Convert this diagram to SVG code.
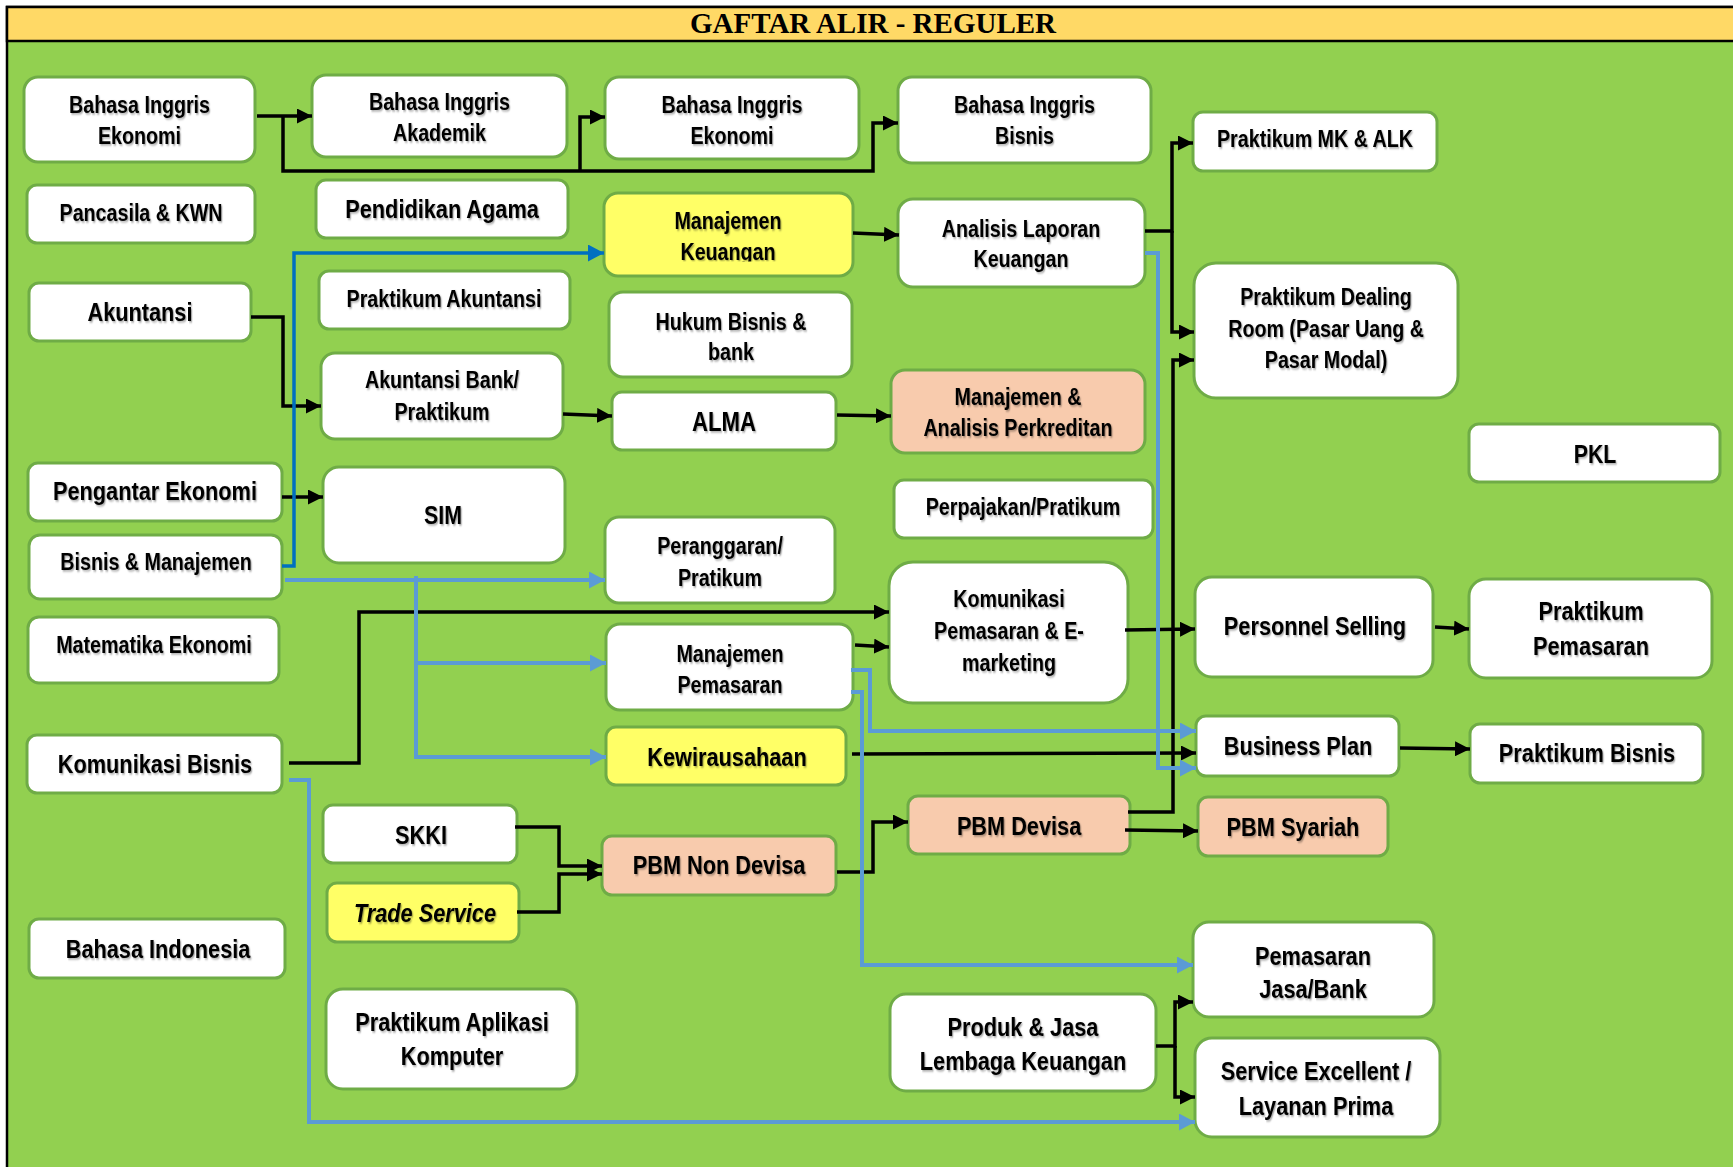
<svg xmlns="http://www.w3.org/2000/svg" width="1733" height="1167" viewBox="0 0 1733 1167">
<style>
.nd{fill:#fff;stroke:#6FAC46;stroke-width:3}
.yl{fill:#FFFF66}
.pc{fill:#F8CBAD}
.t{font-family:"Liberation Sans",Arial,sans-serif;font-weight:bold;fill:#000;text-anchor:middle;transform-box:fill-box;transform-origin:center;transform:scaleX(0.82);filter:url(#ts)}
.s24{font-size:24px}
.s26{font-size:26.5px}
.c{fill:none;stroke:#000;stroke-width:3.5;marker-end:url(#ab)}
.b{fill:none;stroke:#5B9BD5;stroke-width:4;marker-end:url(#al)}
.d{fill:none;stroke:#0070C0;stroke-width:3.5;marker-end:url(#ad)}
</style>
<defs>
<filter id="ts" x="-10%" y="-20%" width="120%" height="150%"><feDropShadow dx="1.5" dy="1.5" stdDeviation="0.8" flood-color="#000" flood-opacity="0.35"/></filter>
<marker id="ab" markerUnits="userSpaceOnUse" markerWidth="16" markerHeight="15" refX="15" refY="7.5" orient="auto"><path d="M0,0 L15,7.5 L0,15 z" fill="#000"/></marker>
<marker id="al" markerUnits="userSpaceOnUse" markerWidth="17" markerHeight="17" refX="16" refY="8.5" orient="auto"><path d="M0,0 L16,8.5 L0,17 z" fill="#5B9BD5"/></marker>
<marker id="ad" markerUnits="userSpaceOnUse" markerWidth="17" markerHeight="17" refX="16" refY="8.5" orient="auto"><path d="M0,0 L16,8.5 L0,17 z" fill="#0070C0"/></marker>
<clipPath id="clipMK"><rect x="600" y="190" width="260" height="71.5"/></clipPath>
</defs>
<rect x="0" y="0" width="1733" height="1167" fill="#fff"/>
<rect x="7" y="7" width="1740" height="1170" fill="#92D050" stroke="#000" stroke-width="2.5"/>
<rect x="7" y="7" width="1740" height="34" fill="#FFD966" stroke="#000" stroke-width="2.5"/>
<text x="873" y="33" font-family="'Liberation Serif','Times New Roman',serif" font-weight="bold" font-size="29" text-anchor="middle">GAFTAR ALIR - REGULER</text>

<g id="nodes">
<g id="n1"><rect class="nd" x="24" y="77" width="231" height="85" rx="14"/><text class="t s24" x="139.5" y="113">Bahasa Inggris<tspan x="139.5" y="144">Ekonomi</tspan></text></g>
<g id="n2"><rect class="nd" x="312" y="75" width="255" height="82" rx="14"/><text class="t s24" x="439.5" y="110">Bahasa Inggris<tspan x="439.5" y="141.5">Akademik</tspan></text></g>
<g id="n3"><rect class="nd" x="605" y="77" width="254" height="82" rx="14"/><text class="t s24" x="732" y="113">Bahasa Inggris<tspan x="732" y="144">Ekonomi</tspan></text></g>
<g id="n4"><rect class="nd" x="898" y="77" width="253" height="86" rx="14"/><text class="t s24" x="1024.5" y="113">Bahasa Inggris<tspan x="1024.5" y="144">Bisnis</tspan></text></g>
<g id="n5"><rect class="nd" x="1193" y="112" width="244" height="59" rx="10"/><text class="t s24" x="1315" y="147">Praktikum MK &amp; ALK</text></g>
<g id="n6"><rect class="nd" x="27" y="185" width="228" height="58" rx="10"/><text class="t s24" x="141" y="221">Pancasila &amp; KWN</text></g>
<g id="n7"><rect class="nd" x="316" y="180" width="252" height="58" rx="10"/><text class="t s26" x="442" y="218">Pendidikan Agama</text></g>
<g id="n8"><rect class="nd yl" x="604" y="193" width="249" height="83" rx="14"/><g clip-path="url(#clipMK)"><text class="t s24" x="728" y="229">Manajemen<tspan x="728" y="260">Keuangan</tspan></text></g></g>
<g id="n9"><rect class="nd" x="898" y="199" width="247" height="88" rx="15"/><text class="t s24" x="1021" y="237">Analisis Laporan<tspan x="1021" y="267">Keuangan</tspan></text></g>
<g id="n10"><rect class="nd" x="29" y="283" width="222" height="58" rx="10"/><text class="t s26" x="140" y="321">Akuntansi</text></g>
<g id="n11"><rect class="nd" x="319" y="271" width="251" height="58" rx="10"/><text class="t s24" x="444" y="307">Praktikum Akuntansi</text></g>
<g id="n12"><rect class="nd" x="609" y="292" width="243" height="85" rx="14"/><text class="t s24" x="731" y="330">Hukum Bisnis &amp;<tspan x="731" y="360">bank</tspan></text></g>
<g id="n13"><rect class="nd" x="321" y="353" width="242" height="86" rx="14"/><text class="t s24" x="442" y="388">Akuntansi Bank/<tspan x="442" y="420.5">Praktikum</tspan></text></g>
<g id="n14"><rect class="nd" x="612" y="392" width="224" height="58" rx="10"/><text class="t" font-size="27" x="724" y="431">ALMA</text></g>
<g id="n15"><rect class="nd pc" x="891" y="370" width="254" height="83" rx="14"/><text class="t s24" x="1018" y="405">Manajemen &amp;<tspan x="1018" y="436">Analisis Perkreditan</tspan></text></g>
<g id="n16"><rect class="nd" x="1194" y="263" width="264" height="135" rx="22"/><text class="t s24" x="1326" y="305">Praktikum Dealing<tspan x="1326" y="337">Room (Pasar Uang &amp;</tspan><tspan x="1326" y="368">Pasar Modal)</tspan></text></g>
<g id="n17"><rect class="nd" x="1469" y="424" width="251" height="58" rx="10"/><text class="t" font-size="26" x="1595" y="463">PKL</text></g>
<g id="n18"><rect class="nd" x="28" y="463" width="254" height="58" rx="10"/><text class="t s26" x="155" y="500">Pengantar Ekonomi</text></g>
<g id="n19"><rect class="nd" x="323" y="467" width="242" height="96" rx="16"/><text class="t" font-size="26" x="443" y="524">SIM</text></g>
<g id="n20"><rect class="nd" x="29" y="535" width="253" height="64" rx="11"/><text class="t s24" x="156" y="570">Bisnis &amp; Manajemen</text></g>
<g id="n21"><rect class="nd" x="894" y="480" width="259" height="58" rx="10"/><text class="t s24" x="1023" y="515">Perpajakan/Pratikum</text></g>
<g id="n22"><rect class="nd" x="605" y="517" width="230" height="86" rx="14"/><text class="t s24" x="720" y="554">Peranggaran/<tspan x="720" y="586">Pratikum</tspan></text></g>
<g id="n23"><rect class="nd" x="889" y="562" width="239" height="141" rx="24"/><text class="t s24" x="1009" y="607">Komunikasi<tspan x="1009" y="639">Pemasaran &amp; E-</tspan><tspan x="1009" y="671">marketing</tspan></text></g>
<g id="n24"><rect class="nd" x="28" y="617" width="251" height="66" rx="11"/><text class="t s24" x="154" y="653">Matematika Ekonomi</text></g>
<g id="n25"><rect class="nd" x="606" y="624" width="247" height="86" rx="14"/><text class="t s24" x="730" y="662">Manajemen<tspan x="730" y="693">Pemasaran</tspan></text></g>
<g id="n26"><rect class="nd" x="1195" y="577" width="238" height="100" rx="17"/><text class="t s26" x="1315" y="635">Personnel Selling</text></g>
<g id="n27"><rect class="nd" x="1469" y="579" width="243" height="99" rx="17"/><text class="t s26" x="1591" y="620">Praktikum<tspan x="1591" y="655">Pemasaran</tspan></text></g>
<g id="n28"><rect class="nd" x="27" y="735" width="255" height="58" rx="10"/><text class="t s26" x="155" y="773">Komunikasi Bisnis</text></g>
<g id="n29"><rect class="nd yl" x="606" y="727" width="240" height="58" rx="10"/><text class="t s26" x="727" y="766">Kewirausahaan</text></g>
<g id="n30"><rect class="nd" x="1196" y="716" width="203" height="60" rx="10"/><text class="t s26" x="1298" y="755">Business Plan</text></g>
<g id="n31"><rect class="nd" x="1470" y="724" width="233" height="59" rx="10"/><text class="t s26" x="1587" y="762">Praktikum Bisnis</text></g>
<g id="n32"><rect class="nd pc" x="908" y="796" width="222" height="58" rx="10"/><text class="t s26" x="1019" y="835">PBM Devisa</text></g>
<g id="n33"><rect class="nd pc" x="1198" y="797" width="190" height="59" rx="10"/><text class="t s26" x="1293" y="836">PBM Syariah</text></g>
<g id="n34"><rect class="nd" x="323" y="805" width="194" height="58" rx="10"/><text class="t s26" x="421" y="844">SKKI</text></g>
<g id="n35"><rect class="nd pc" x="602" y="836" width="234" height="59" rx="10"/><text class="t s26" x="719" y="874">PBM Non Devisa</text></g>
<g id="n36"><rect class="nd yl" x="327" y="883" width="192" height="59" rx="10"/><text class="t s26" font-style="italic" x="425" y="922">Trade Service</text></g>
<g id="n37"><rect class="nd" x="29" y="919" width="256" height="59" rx="10"/><text class="t s26" x="158" y="958">Bahasa Indonesia</text></g>
<g id="n38"><rect class="nd" x="1193" y="922" width="241" height="95" rx="16"/><text class="t s26" x="1313" y="965">Pemasaran<tspan x="1313" y="998">Jasa/Bank</tspan></text></g>
<g id="n39"><rect class="nd" x="326" y="989" width="251" height="100" rx="17"/><text class="t s26" x="452" y="1031">Praktikum Aplikasi<tspan x="452" y="1065">Komputer</tspan></text></g>
<g id="n40"><rect class="nd" x="890" y="994" width="266" height="97" rx="16"/><text class="t s26" x="1023" y="1036">Produk &amp; Jasa<tspan x="1023" y="1070">Lembaga Keuangan</tspan></text></g>
<g id="n41"><rect class="nd" x="1195" y="1038" width="245" height="99" rx="17"/><text class="t s26" x="1316" y="1080">Service Excellent /<tspan x="1316" y="1115">Layanan Prima</tspan></text></g>
</g>

<g id="connectors">
<path class="c" d="M257,116 H312"/>
<path class="c" d="M283,116 V171 H873 V123 H898"/>
<path class="c" d="M580,171 V117 H605"/>
<path class="c" d="M853,233 L899,235"/>
<path class="c" d="M1145,231 H1172 V143 H1193"/>
<path class="c" d="M1172,231 V332 H1194"/>
<path class="c" d="M251,317 H283 V406 H321"/>
<path class="c" d="M282,497 H323"/>
<path class="c" d="M563,414 L612,416"/>
<path class="c" d="M837,415 L891,416"/>
<path class="c" d="M289,763 H359 V612 H889"/>
<path class="c" d="M855,645 L889,647"/>
<path class="c" d="M852,754 L1196,753"/>
<path class="c" d="M1125,630 L1195,629"/>
<path class="c" d="M1435,627 L1469,629"/>
<path class="c" d="M1400,748 L1470,749"/>
<path class="c" d="M1125,830 L1198,831"/>
<path class="c" d="M1128,812 H1173 V360 H1194"/>
<path class="c" d="M515,827 H559 V866 H602"/>
<path class="c" d="M517,912 H559 V874 H602"/>
<path class="c" d="M837,872 H873 V822 H908"/>
<path class="c" d="M1156,1046 H1175 V1002 H1193"/>
<path class="c" d="M1175,1046 V1097 H1195"/>
<path class="b" d="M1145,253 H1158 V768 H1196"/>
<path class="b" d="M285,580 H605"/>
<path class="b" d="M416,576 V757 H606"/>
<path class="b" d="M416,663 H606"/>
<path class="b" d="M289,780 H309 V1122 H1195"/>
<path class="b" d="M851,670 H870 V731 H1196"/>
<path class="b" d="M851,692 H862 V965 H1193"/>
<path class="d" d="M282,566 H294 V253 H604"/>
</g>
</svg>
